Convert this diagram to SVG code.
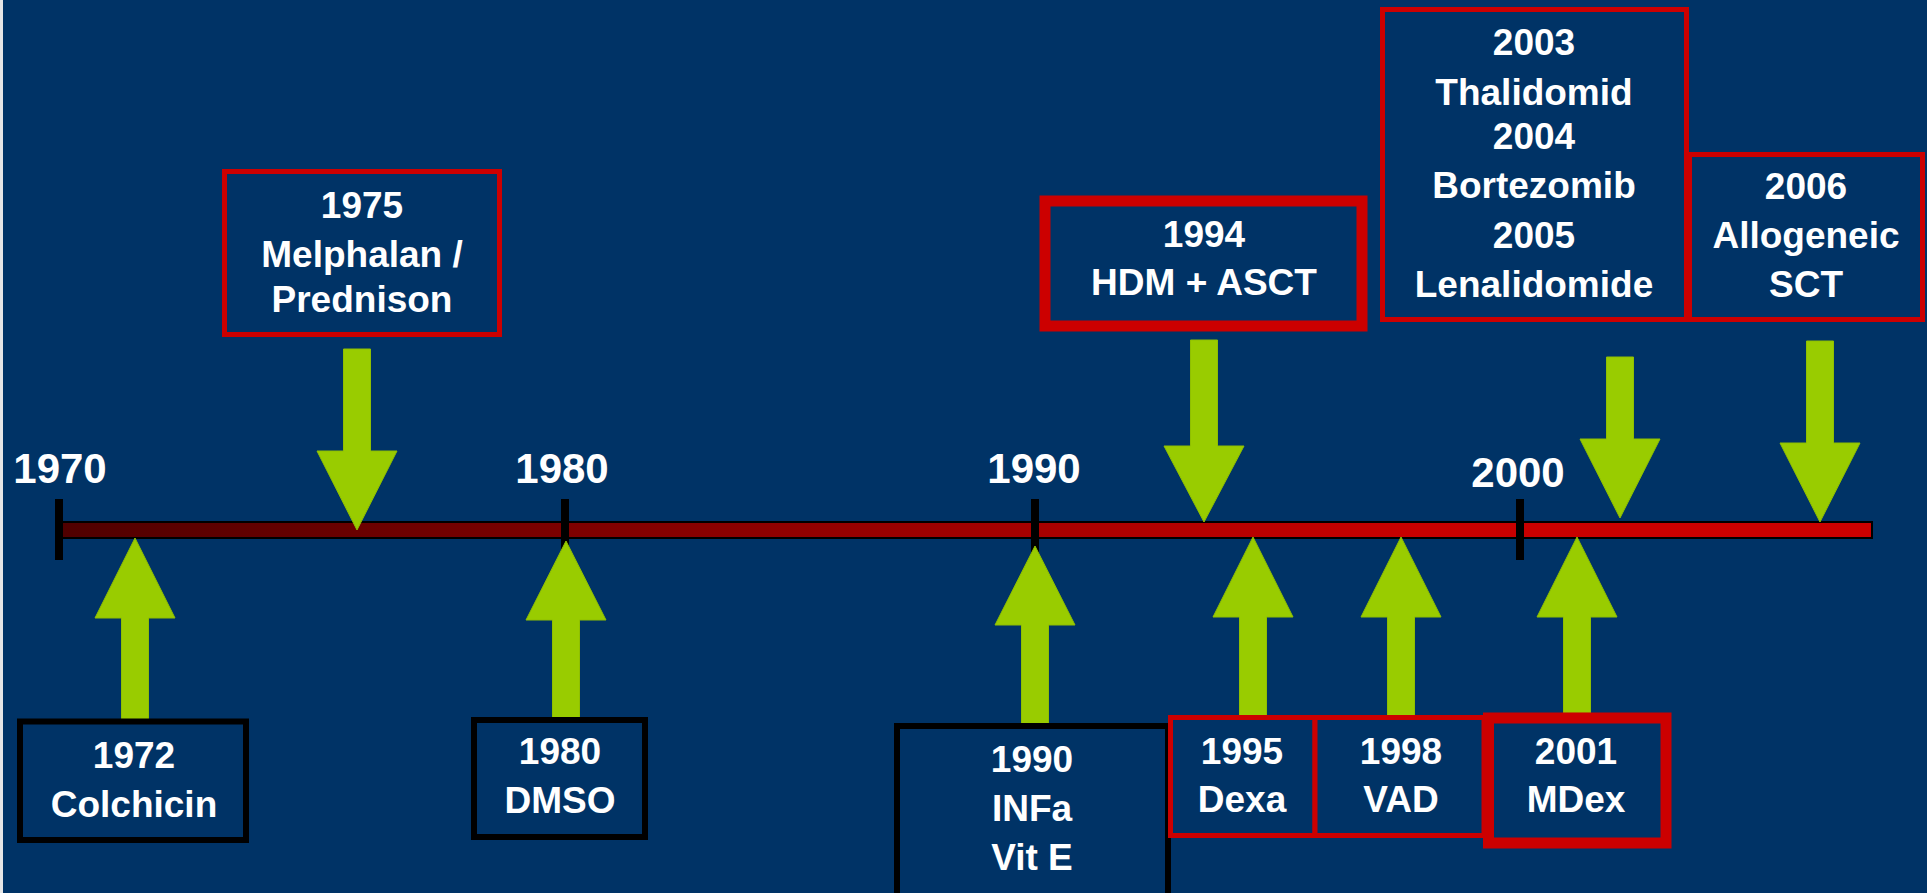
<svg xmlns="http://www.w3.org/2000/svg" width="1927" height="893" viewBox="0 0 1927 893">
<defs>
<linearGradient id="barGrad" x1="59" y1="0" x2="1872" y2="0" gradientUnits="userSpaceOnUse">
<stop offset="0" stop-color="#500000"/>
<stop offset="0.75" stop-color="#c80000"/>
<stop offset="1" stop-color="#cc0000"/>
</linearGradient>
<style>
.bg{fill:#003366}
.t{font-family:"Liberation Sans",Arial,sans-serif;font-weight:bold;fill:#ffffff;text-anchor:middle}
.yr{font-size:42px}
.bx{font-size:37px}
.blk{fill:#003366;stroke:#000000;stroke-width:6}
.red{fill:#003366;stroke:#cc0000;stroke-width:5}
.redT{fill:#003366;stroke:#cc0000;stroke-width:11}
.arr{fill:#99cc00;stroke:#8fbf00;stroke-width:1}
.tick{fill:#000000}
</style>
</defs>
<rect class="bg" x="0" y="0" width="1927" height="893"/>
<rect x="0" y="0" width="3" height="893" fill="#e6e6e6"/>

<g id="timeline">
<rect x="59" y="522" width="1813" height="16" fill="url(#barGrad)" stroke="#000000" stroke-width="2"/>
<rect class="tick" x="55" y="499" width="8" height="61"/>
<rect class="tick" x="561" y="499" width="8" height="61"/>
<rect class="tick" x="1031" y="499" width="8" height="61"/>
<rect class="tick" x="1516" y="499" width="8" height="61"/>
<text class="t yr" x="60" y="483">1970</text>
<text class="t yr" x="562" y="483">1980</text>
<text class="t yr" x="1034" y="483">1990</text>
<text class="t yr" x="1518" y="487">2000</text>
</g>

<g id="connectors">
<polygon class="arr" points="121.5,721 121.5,618 95,618 135,538 175,618 148.5,618 148.5,721"/>
<polygon class="arr" points="552.5,718 552.5,620 526,620 566,541 606,620 579.5,620 579.5,718"/>
<polygon class="arr" points="1021.5,726 1021.5,625 995,625 1035,546 1075,625 1048.5,625 1048.5,726"/>
<polygon class="arr" points="1239.5,716 1239.5,617 1213,617 1253,537 1293,617 1266.5,617 1266.5,716"/>
<polygon class="arr" points="1387.5,716 1387.5,617 1361,617 1401,537 1441,617 1414.5,617 1414.5,716"/>
<polygon class="arr" points="1563.5,713 1563.5,617 1537,617 1577,537 1617,617 1590.5,617 1590.5,713"/>
<polygon class="arr" points="343.5,349 370.5,349 370.5,451 397,451 357,530 317,451 343.5,451"/>
<polygon class="arr" points="1190.5,340 1217.5,340 1217.5,446 1244,446 1204,522 1164,446 1190.5,446"/>
<polygon class="arr" points="1606.5,357 1633.5,357 1633.5,439 1660,439 1620,518 1580,439 1606.5,439"/>
<polygon class="arr" points="1806.5,341 1833.5,341 1833.5,443 1860,443 1820,522 1780,443 1806.5,443"/>
</g>

<g id="n1975">
<rect class="red" x="224.5" y="171.5" width="275" height="163"/>
<text class="t bx" x="362" y="218">1975</text>
<text class="t bx" x="362" y="267">Melphalan /</text>
<text class="t bx" x="362" y="312">Prednison</text>
</g>
<g id="n1994">
<rect class="redT" x="1045" y="201" width="317" height="125"/>
<text class="t bx" x="1204" y="247">1994</text>
<text class="t bx" x="1204" y="295">HDM + ASCT</text>
</g>
<g id="n2003">
<rect class="red" x="1382.5" y="9.5" width="304" height="310"/>
<text class="t bx" x="1534" y="55">2003</text>
<text class="t bx" x="1534" y="105">Thalidomid</text>
<text class="t bx" x="1534" y="149">2004</text>
<text class="t bx" x="1534" y="198">Bortezomib</text>
<text class="t bx" x="1534" y="248">2005</text>
<text class="t bx" x="1534" y="297">Lenalidomide</text>
</g>
<g id="n2006">
<rect class="red" x="1689.5" y="154.5" width="233" height="165"/>
<text class="t bx" x="1806" y="199">2006</text>
<text class="t bx" x="1806" y="248">Allogeneic</text>
<text class="t bx" x="1806" y="297">SCT</text>
</g>
<g id="n1972">
<rect class="blk" x="20" y="721.5" width="226" height="118.5"/>
<text class="t bx" x="134" y="768">1972</text>
<text class="t bx" x="134" y="817">Colchicin</text>
</g>
<g id="n1980">
<rect class="blk" x="474" y="720" width="171" height="117"/>
<text class="t bx" x="560" y="764">1980</text>
<text class="t bx" x="560" y="813">DMSO</text>
</g>
<g id="n1990">
<rect class="blk" x="897" y="726" width="271" height="180"/>
<text class="t bx" x="1032" y="772">1990</text>
<text class="t bx" x="1032" y="821">INFa</text>
<text class="t bx" x="1032" y="870">Vit E</text>
</g>
<g id="n1995">
<rect class="red" x="1170.5" y="717.5" width="144.5" height="118"/>
<text class="t bx" x="1242" y="764">1995</text>
<text class="t bx" x="1242" y="812">Dexa</text>
</g>
<g id="n1998">
<rect class="red" x="1315" y="717.5" width="169" height="118"/>
<text class="t bx" x="1401" y="764">1998</text>
<text class="t bx" x="1401" y="812">VAD</text>
</g>
<g id="n2001">
<rect class="redT" x="1488.5" y="718" width="177.5" height="125"/>
<text class="t bx" x="1576" y="764">2001</text>
<text class="t bx" x="1576" y="812">MDex</text>
</g>
</svg>
